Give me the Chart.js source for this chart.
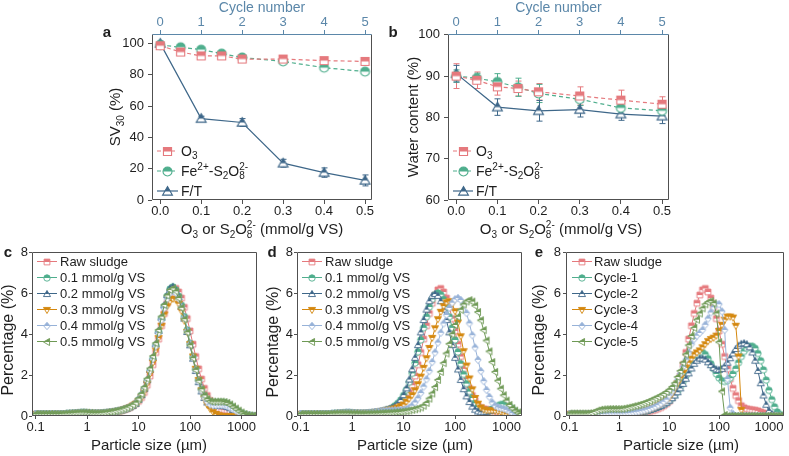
<!DOCTYPE html>
<html>
<head>
<meta charset="utf-8">
<title>Sludge settling, water content and particle size</title>
<script src="https://cdn.jsdelivr.net/npm/chart.js@4.4.1/dist/chart.umd.min.js"></script>
<style>
  html, body { margin: 0; padding: 0; background: #fff; }
  #fig { position: relative; width: 789px; height: 456px; overflow: hidden; }
  #fig canvas { position: absolute; }
</style>
</head>
<body>
<div id="fig">
  <canvas id="panelA" width="385" height="240" style="left:0;top:0"></canvas>
  <canvas id="panelB" width="404" height="240" style="left:385px;top:0"></canvas>
  <canvas id="panelC" width="265" height="216" style="left:0;top:240px"></canvas>
  <canvas id="panelD" width="265" height="216" style="left:265px;top:240px"></canvas>
  <canvas id="panelE" width="264" height="216" style="left:525px;top:240px"></canvas>
</div>
<script>
// ---------- data ----------
const dose = [0, 0.05, 0.1, 0.15, 0.2, 0.3, 0.4, 0.5];
const doseFT = [0, 0.1, 0.2, 0.3, 0.4, 0.5];
const doseTicks = [0, 0.1, 0.2, 0.3, 0.4, 0.5];
const cycleTicks = [0, 1, 2, 3, 4, 5];
const sv30Ticks = [0, 20, 40, 60, 80, 100];
const waterTicks = [60, 70, 80, 90, 100];
const sizeTicks = [0.1, 1, 10, 100, 1000];
const pctTicks = [0, 2, 4, 6, 8];

// SV30 (%)
const sv30O3 = [98.5, 94.5, 92, 92, 90, 90, 89, 88.5];
const sv30O3Err = [1, 1.5, 1.5, 1, 1, 1, 1, 1];
const sv30Fe = [99, 97.5, 96, 93.5, 91, 88.5, 84.5, 82];
const sv30FeErr = [1, 1, 1, 1, 1, 1, 1, 1];
const sv30FT = [100, 52, 49.5, 23.5, 17.5, 12.5];
const sv30FTErr = [1.5, 1.5, 2.5, 2.5, 3, 3.5];

// water content (%)
const waterO3 = [90, 89, 87.4, 87, 86.2, 85.2, 84.2, 83.2];
const waterO3Err = [3, 2, 2, 1.8, 2, 2.2, 2.4, 1.8];
const waterFe = [90, 89.5, 88.6, 87.3, 85.8, 84.4, 82.3, 81.6];
const waterFeErr = [1.5, 1.2, 2, 2.2, 2.2, 1.5, 1.5, 1.2];
const waterFT = [90.6, 82.5, 81.6, 81.9, 80.8, 80.3];
const waterFTErr = [2, 2, 2.5, 1.8, 1.5, 1.8];

const labO3 = ['O', ['3', 'sub']];
const labFe = ['Fe', ['2+', 'sup'], '-S', ['2', 'sub'], 'O', ['8', 'stack', '2-']];
const labFT = ['F/T'];
const doseLabels = ['Raw sludge', '0.1 mmol/g VS', '0.2 mmol/g VS', '0.3 mmol/g VS', '0.4 mmol/g VS', '0.5 mmol/g VS'];
const cycleLabels = ['Raw sludge', 'Cycle-1', 'Cycle-2', 'Cycle-3', 'Cycle-4', 'Cycle-5'];

// particle size classes (um)
const sizes = [
  0.1, 0.114, 0.129, 0.147, 0.167, 0.19, 0.216, 0.245, 0.279, 0.317, 0.36, 0.409, 0.465, 0.528, 0.6, 0.682, 0.775, 0.881,
  1, 1.14, 1.29, 1.47, 1.67, 1.9, 2.16, 2.45, 2.79, 3.17, 3.6, 4.09, 4.65, 5.28, 6, 6.82, 7.75, 8.81,
  10, 11.4, 12.9, 14.7, 16.7, 19, 21.6, 24.5, 27.9, 31.7, 36, 40.9, 46.5, 52.8, 60, 68.2, 77.5, 88.1,
  100, 114, 129, 147, 167, 190, 216, 245, 279, 317, 360, 409, 465, 528, 600, 682, 775, 881,
  1000, 1140, 1290, 1470, 1670, 1900];

const rawSludge = [
  0.08,0.08,0.08,0.08,0.08,0.08,0.08,0.08,0.08,0.08,0.08,0.09,0.1,0.11,0.12,0.13,0.14,0.14,
  0.14,0.13,0.12,0.12,0.12,0.13,0.14,0.15,0.17,0.19,0.21,0.24,0.27,0.31,0.36,0.42,0.5,0.6,
  0.72,0.9,1.15,1.5,1.95,2.5,3.1,3.75,4.4,5.0,5.5,5.9,6.15,6.22,6.05,5.75,5.3,4.75,
  4.15,3.5,2.9,2.3,1.8,1.35,1.0,0.75,0.5,0.4,0.35,0.32,0.3,0.28,0.25,0.2,0.15,0.1,
  0.06,0.03,0.01,0,0,0];

// panel c
const c01 = [
  0.1,0.1,0.1,0.1,0.1,0.1,0.1,0.1,0.1,0.1,0.1,0.11,0.12,0.13,0.14,0.15,0.16,0.16,
  0.15,0.14,0.13,0.13,0.13,0.14,0.15,0.16,0.18,0.2,0.22,0.25,0.28,0.32,0.37,0.43,0.5,0.6,
  0.78,1.0,1.3,1.7,2.2,2.8,3.45,4.1,4.75,5.35,5.85,6.2,6.3,6.15,5.85,5.4,4.85,4.2,
  3.55,2.9,2.3,1.75,1.3,0.98,0.78,0.68,0.65,0.65,0.66,0.66,0.65,0.6,0.52,0.42,0.32,0.22,
  0.14,0.08,0.04,0.02,0.01,0];
const c02 = [
  0.1,0.1,0.1,0.1,0.1,0.1,0.1,0.1,0.1,0.1,0.1,0.11,0.12,0.13,0.14,0.15,0.16,0.16,
  0.15,0.14,0.13,0.13,0.13,0.14,0.15,0.16,0.18,0.2,0.22,0.25,0.28,0.32,0.37,0.43,0.5,0.6,
  0.8,1.02,1.33,1.75,2.25,2.85,3.5,4.15,4.8,5.4,5.9,6.22,6.3,6.12,5.8,5.32,4.75,4.1,
  3.45,2.8,2.2,1.65,1.2,0.88,0.66,0.55,0.5,0.5,0.5,0.5,0.48,0.44,0.38,0.3,0.22,0.14,
  0.08,0.04,0.02,0,0,0];
const c03 = [
  0.08,0.08,0.08,0.08,0.08,0.08,0.08,0.08,0.08,0.08,0.08,0.09,0.1,0.11,0.12,0.13,0.14,0.14,
  0.14,0.13,0.12,0.12,0.12,0.13,0.14,0.15,0.17,0.19,0.21,0.24,0.27,0.31,0.36,0.42,0.5,0.58,
  0.72,0.92,1.2,1.58,2.05,2.6,3.2,3.8,4.4,4.95,5.35,5.6,5.72,5.68,5.48,5.12,4.65,4.1,
  3.5,2.9,2.3,1.75,1.25,0.85,0.55,0.35,0.2,0.1,0.04,0,0,0,0,0,0,0,
  0,0,0,0,0,0];
const c04 = [
  0.1,0.1,0.1,0.1,0.1,0.1,0.1,0.1,0.1,0.1,0.1,0.11,0.12,0.13,0.14,0.15,0.16,0.16,
  0.15,0.14,0.13,0.13,0.13,0.14,0.15,0.16,0.18,0.2,0.22,0.25,0.28,0.32,0.37,0.43,0.5,0.6,
  0.8,1.02,1.32,1.72,2.2,2.78,3.4,4.05,4.68,5.25,5.7,6.0,6.1,6.0,5.72,5.3,4.78,4.15,
  3.5,2.85,2.25,1.7,1.25,0.9,0.68,0.56,0.52,0.52,0.53,0.53,0.52,0.48,0.42,0.34,0.26,0.18,
  0.11,0.06,0.03,0.01,0,0];
const c05 = [
  0.1,0.1,0.1,0.1,0.1,0.1,0.1,0.1,0.1,0.1,0.11,0.12,0.13,0.14,0.15,0.16,0.17,0.17,
  0.16,0.15,0.14,0.14,0.14,0.15,0.16,0.18,0.2,0.22,0.25,0.28,0.32,0.36,0.41,0.47,0.55,0.65,
  0.85,1.08,1.4,1.82,2.32,2.92,3.55,4.2,4.85,5.42,5.88,6.15,6.22,6.08,5.75,5.28,4.72,4.08,
  3.45,2.82,2.25,1.72,1.3,1.0,0.82,0.72,0.7,0.7,0.7,0.7,0.68,0.64,0.56,0.46,0.36,0.26,
  0.17,0.1,0.05,0.02,0.01,0];

// panel d
const d01 = [
  0.1,0.1,0.1,0.1,0.1,0.1,0.1,0.1,0.1,0.1,0.1,0.11,0.12,0.13,0.14,0.15,0.16,0.16,
  0.15,0.14,0.13,0.13,0.13,0.14,0.15,0.16,0.18,0.2,0.22,0.25,0.3,0.32,0.4,0.5,0.62,0.78,
  1.0,1.28,1.65,2.08,2.58,3.13,3.71,4.3,4.84,5.32,5.69,5.92,6.0,5.92,5.69,5.32,4.84,4.3,
  3.71,3.12,2.55,2.03,1.58,1.19,0.88,0.62,0.44,0.32,0.26,0.25,0.28,0.34,0.42,0.5,0.56,0.58,
  0.55,0.47,0.36,0.24,0.13,0.05];
const d02 = [
  0.1,0.1,0.1,0.1,0.1,0.1,0.1,0.1,0.1,0.1,0.1,0.11,0.12,0.13,0.14,0.15,0.16,0.16,
  0.15,0.14,0.13,0.13,0.13,0.14,0.15,0.16,0.18,0.2,0.22,0.25,0.3,0.34,0.4,0.48,0.6,0.78,
  1.02,1.35,1.78,2.28,2.84,3.46,4.08,4.68,5.19,5.6,5.86,5.95,5.86,5.6,5.19,4.68,4.08,3.46,
  2.84,2.27,1.76,1.31,0.96,0.68,0.46,0.31,0.22,0.18,0.18,0.2,0.24,0.28,0.3,0.3,0.27,0.22,
  0.16,0.1,0.05,0.02,0,0];
const d03 = [
  0.08,0.08,0.08,0.08,0.08,0.08,0.08,0.08,0.08,0.08,0.08,0.09,0.1,0.11,0.12,0.13,0.14,0.14,
  0.14,0.13,0.12,0.12,0.12,0.13,0.14,0.15,0.17,0.19,0.21,0.23,0.28,0.3,0.33,0.37,0.42,0.48,
  0.56,0.7,0.85,1.02,1.25,1.55,1.92,2.35,2.82,3.32,3.81,4.28,4.72,5.08,5.36,5.54,5.6,5.47,
  5.11,4.56,3.89,3.16,2.46,1.83,1.3,0.88,0.6,0.42,0.32,0.28,0.27,0.27,0.26,0.24,0.2,0.15,
  0.1,0.06,0.03,0.01,0,0];
const d04 = [
  0.1,0.1,0.1,0.1,0.1,0.1,0.1,0.1,0.1,0.1,0.1,0.11,0.12,0.13,0.14,0.15,0.16,0.16,
  0.15,0.14,0.13,0.13,0.13,0.14,0.15,0.16,0.18,0.2,0.22,0.25,0.26,0.27,0.27,0.28,0.28,0.29,
  0.3,0.34,0.4,0.5,0.66,0.86,1.12,1.43,1.79,2.19,2.63,3.1,3.58,4.06,4.51,4.93,5.27,5.53,
  5.69,5.75,5.66,5.42,5.02,4.52,3.94,3.34,2.74,2.19,1.7,1.27,0.93,0.66,0.5,0.42,0.38,0.35,
  0.3,0.22,0.14,0.07,0.03,0];
const d05 = [
  0.1,0.1,0.1,0.1,0.1,0.1,0.1,0.1,0.1,0.1,0.1,0.11,0.12,0.12,0.13,0.13,0.13,0.13,
  0.12,0.12,0.11,0.11,0.11,0.11,0.12,0.12,0.13,0.13,0.14,0.15,0.15,0.16,0.17,0.18,0.19,0.2,
  0.22,0.24,0.27,0.3,0.33,0.37,0.42,0.5,0.64,0.85,1.1,1.41,1.76,2.15,2.58,3.05,3.52,3.99,
  4.44,4.84,5.18,5.44,5.59,5.65,5.58,5.38,5.07,4.67,4.19,3.68,3.15,2.63,2.15,1.72,1.33,1.01,
  0.75,0.54,0.38,0.26,0.17,0.1];

// panel e
const e01 = [
  0.08,0.08,0.08,0.08,0.08,0.08,0.08,0.08,0.08,0.08,0.08,0.08,0.08,0.08,0.08,0.08,0.08,0.08,
  0.08,0.09,0.1,0.11,0.12,0.14,0.16,0.18,0.2,0.23,0.26,0.3,0.34,0.39,0.44,0.5,0.57,0.65,
  0.75,0.87,1.02,1.2,1.42,1.68,1.95,2.25,2.55,2.8,3.0,3.1,3.1,3.0,2.8,2.55,2.3,2.05,
  1.85,1.72,1.68,1.72,1.85,2.05,2.3,2.6,2.9,3.15,3.3,3.4,3.4,3.3,3.05,2.7,2.25,1.75,
  1.25,0.8,0.45,0.2,0.07,0.02];
const e02 = [
  0.08,0.08,0.08,0.08,0.08,0.08,0.08,0.08,0.08,0.08,0.08,0.08,0.08,0.08,0.08,0.08,0.08,0.08,
  0.08,0.09,0.1,0.11,0.12,0.14,0.16,0.18,0.2,0.23,0.26,0.3,0.34,0.39,0.44,0.5,0.57,0.65,
  0.75,0.87,1.0,1.16,1.35,1.57,1.82,2.08,2.32,2.55,2.7,2.8,2.8,2.75,2.62,2.48,2.35,2.27,
  2.25,2.3,2.42,2.6,2.82,3.05,3.27,3.43,3.52,3.55,3.5,3.35,3.1,2.7,2.2,1.6,1.0,0.55,
  0.25,0.1,0.03,0,0,0];
const e03 = [
  0.08,0.08,0.08,0.08,0.08,0.08,0.08,0.08,0.08,0.08,0.08,0.09,0.1,0.11,0.12,0.12,0.12,0.12,
  0.12,0.12,0.12,0.13,0.14,0.16,0.18,0.2,0.23,0.26,0.3,0.34,0.39,0.45,0.52,0.6,0.69,0.79,
  0.9,1.1,1.35,1.6,1.85,2.1,2.35,2.6,2.8,3.0,3.1,3.2,3.35,3.5,3.65,3.75,3.82,3.92,
  4.15,4.45,4.7,4.85,4.85,4.8,4.4,2.9,0.3,0,0,0,0,0,0,0,0,0,
  0,0,0,0,0,0];
const e04 = [
  0.08,0.08,0.08,0.08,0.08,0.08,0.08,0.08,0.08,0.08,0.08,0.09,0.1,0.11,0.12,0.13,0.13,0.13,
  0.13,0.13,0.13,0.14,0.15,0.17,0.19,0.21,0.24,0.27,0.31,0.35,0.4,0.46,0.53,0.61,0.7,0.8,
  1.0,1.2,1.45,1.75,2.05,2.4,2.75,3.1,3.5,3.75,3.92,4.05,4.2,4.45,4.75,5.05,5.3,5.45,
  5.45,5.1,4.2,1.8,0.4,0.1,0,0,0,0,0,0,0,0,0,0,0,0,
  0,0,0,0,0,0];
const e05 = [
  0.12,0.12,0.12,0.12,0.12,0.12,0.12,0.13,0.15,0.2,0.26,0.3,0.32,0.33,0.34,0.34,0.34,0.34,
  0.34,0.35,0.37,0.4,0.43,0.47,0.5,0.54,0.58,0.63,0.68,0.74,0.8,0.86,0.93,1.0,1.08,1.17,
  1.28,1.42,1.6,1.9,2.2,2.6,3.0,3.45,3.9,4.3,4.7,5.0,5.25,5.45,5.55,5.6,5.5,5.0,
  3.6,1.2,0.05,0,0,0,0,0,0,0,0,0,0,0,0,0,0,0,
  0,0,0,0,0,0];

// ---------- style ----------
const FONT = 'Arial, "Liberation Sans", Helvetica, sans-serif';
const INK = '#1e1e1e', AXIS = '#505050', CYC = '#5b87a9';
const RED = '#e5797d', TEAL = '#4fae8d', NAVY = '#3e6789', ORANGE = '#d4870d', SKY = '#97b2d8', OLIVE = '#6e9955';
const PSD_STYLE = [['square', RED], ['circle', TEAL], ['tri', NAVY], ['triDown', ORANGE], ['diamond', SKY], ['triLeft', OLIVE]];

Chart.defaults.font.family = FONT;
Chart.defaults.color = INK;

// half-filled marker: top half solid, bottom half white
function marker(shape, color, h, lw) {
  const size = Math.ceil(2 * h * 1.2 + lw * 2 + 2);
  const cv = document.createElement('canvas');
  cv.width = cv.height = size;
  const g = cv.getContext('2d');
  const m = size / 2;
  g.translate(m, m);
  const path = () => {
    g.beginPath();
    if (shape === 'square') g.rect(-h * 0.9, -h * 0.9, h * 1.8, h * 1.8);
    else if (shape === 'circle') g.arc(0, 0, h, 0, Math.PI * 2);
    else if (shape === 'tri') { g.moveTo(0, -h * 1.1); g.lineTo(h * 1.1, h * 0.8); g.lineTo(-h * 1.1, h * 0.8); g.closePath(); }
    else if (shape === 'triDown') { g.moveTo(0, h * 1.1); g.lineTo(h * 1.1, -h * 0.8); g.lineTo(-h * 1.1, -h * 0.8); g.closePath(); }
    else if (shape === 'diamond') { g.moveTo(0, -h * 1.15); g.lineTo(h, 0); g.lineTo(0, h * 1.15); g.lineTo(-h, 0); g.closePath(); }
    else if (shape === 'triLeft') { g.moveTo(-h * 1.1, 0); g.lineTo(h * 0.8, -h * 1.1); g.lineTo(h * 0.8, h * 1.1); g.closePath(); }
  };
  path(); g.fillStyle = '#fff'; g.fill();
  g.save(); g.beginPath(); g.rect(-m, -m, size, m); g.clip();
  path(); g.fillStyle = color; g.fill(); g.restore();
  path(); g.lineWidth = lw; g.strokeStyle = color; g.stroke();
  return cv;
}

// text with sub / superscripts, centred vertically on y
function rich(ctx, segs, x, y, size, align, rot, weight) {
  const sm = Math.round(size * 0.68);
  const w8 = weight ? weight + ' ' : '';
  const parts = segs.map(s => {
    const [t, k, t2] = typeof s === 'string' ? [s, ''] : s;
    ctx.font = w8 + (k ? sm : size) + 'px ' + FONT;
    let w = ctx.measureText(t).width;
    if (t2) w = Math.max(w, ctx.measureText(t2).width);
    return {t, k, t2, w};
  });
  const total = parts.reduce((a, p) => a + p.w, 0);
  ctx.save();
  ctx.translate(x, y);
  if (rot) ctx.rotate(rot);
  ctx.fillStyle = INK; ctx.textAlign = 'left'; ctx.textBaseline = 'alphabetic';
  let cx = align === 'left' ? 0 : -total / 2;
  const base = size * 0.36;
  for (const p of parts) {
    ctx.font = w8 + (p.k ? sm : size) + 'px ' + FONT;
    if (!p.k) ctx.fillText(p.t, cx, base);
    else if (p.k === 'sub') ctx.fillText(p.t, cx, base + size * 0.22);
    else if (p.k === 'sup') ctx.fillText(p.t, cx, base - size * 0.42);
    else { ctx.fillText(p.t, cx, base + size * 0.22); ctx.fillText(p.t2, cx, base - size * 0.42); }
    cx += p.w;
  }
  ctx.restore();
}

const extras = {
  id: 'extras',
  beforeDatasetsDraw(chart) {
    const ctx = chart.ctx, ys = chart.scales.y;
    chart.data.datasets.forEach((ds, i) => {
      if (!ds.errs) return;
      const meta = chart.getDatasetMeta(i);
      ctx.save();
      ctx.strokeStyle = ds.borderColor; ctx.lineWidth = 1;
      meta.data.forEach((pt, j) => {
        const v = ds.data[j].y, e = ds.errs[j];
        const y1 = ys.getPixelForValue(v + e), y2 = ys.getPixelForValue(v - e);
        const x = Math.round(pt.x) + 0.5;
        ctx.beginPath();
        ctx.moveTo(x, y1); ctx.lineTo(x, y2);
        ctx.moveTo(x - 3, y1); ctx.lineTo(x + 3, y1);
        ctx.moveTo(x - 3, y2); ctx.lineTo(x + 3, y2);
        ctx.stroke();
      });
      ctx.restore();
    });
  },
  afterDraw(chart, args, o) {
    const ctx = chart.ctx, a = chart.chartArea;
    const l = Math.round(a.left) + 0.5, t = Math.round(a.top) + 0.5;
    const r = Math.round(a.right) - 0.5, b = Math.round(a.bottom) - 0.5;
    ctx.save();
    ctx.lineWidth = 1;
    ctx.strokeStyle = AXIS;
    ctx.beginPath(); ctx.moveTo(l, t); ctx.lineTo(l, b); ctx.lineTo(r, b); ctx.lineTo(r, t); ctx.stroke();
    ctx.strokeStyle = o.topColor || AXIS;
    ctx.beginPath(); ctx.moveTo(l, t); ctx.lineTo(r, t); ctx.stroke();
    ctx.restore();

    (o.titles || []).forEach(tt => rich(ctx, tt.segs, tt.x, tt.y, tt.size, 'center', tt.rot || 0));
    rich(ctx, [o.letter], o.letterAt[0], o.letterAt[1], 15, 'center', 0, 'bold');

    const L = o.legend;
    L.items.forEach((label, k) => {
      const ds = chart.data.datasets[k];
      const y = L.y + k * L.dy;
      ctx.save();
      ctx.strokeStyle = ds.borderColor; ctx.lineWidth = ds.borderWidth;
      ctx.setLineDash(ds.borderDash || []);
      ctx.beginPath(); ctx.moveTo(L.x0, y); ctx.lineTo(L.x1, y); ctx.stroke();
      ctx.restore();
      const img = ds.pointStyle;
      ctx.drawImage(img, Math.round((L.x0 + L.x1) / 2 - img.width / 2), Math.round(y - img.height / 2));
      rich(ctx, typeof label === 'string' ? [label] : label, L.tx, y, L.size, 'left');
    });
  }
};

const fixedTicks = list => s => { s.ticks = list.map(v => ({value: v})); };
const axisGrid = (len, color) => ({drawOnChartArea: false, drawTicks: true, tickLength: len, color});

function doseChart(id, o) {
  const datasets = o.series.map(s => ({
    data: s.x.map((x, i) => ({x, y: s.y[i]})),
    errs: s.err,
    borderColor: s.color, borderWidth: 1.2, borderDash: s.dash,
    pointStyle: marker(s.shape, s.color, 4.5, 1.1), pointRadius: 5,
    tension: 0, xAxisID: 'x', yAxisID: 'y'
  }));
  return new Chart(document.getElementById(id), {
    type: 'line',
    data: {datasets},
    options: {
      responsive: false, animation: false, events: [],
      layout: {padding: {left: 0, right: o.padRight, top: 0, bottom: 0}},
      plugins: {legend: {display: false}, tooltip: {enabled: false}, extras: o.extras},
      scales: {
        x: {type: 'linear', position: 'bottom', min: -0.02, max: 0.517,
            afterBuildTicks: fixedTicks(doseTicks), afterFit: s => { s.height = 40; },
            ticks: {callback: v => v.toFixed(1), font: {size: 13}, padding: 0, maxRotation: 0, autoSkip: false, color: INK},
            grid: axisGrid(4, AXIS), border: {display: false}},
        cyc: {axis: 'x', type: 'linear', position: 'top', min: -0.2, max: 5.17,
            afterBuildTicks: fixedTicks(cycleTicks), afterFit: s => { s.height = 34; },
            ticks: {font: {size: 13}, padding: 0, maxRotation: 0, autoSkip: false, color: CYC},
            grid: axisGrid(4, CYC), border: {display: false},
            title: {display: true, text: 'Cycle number', color: CYC, font: {size: 14, lineHeight: 1.1}, padding: 0}},
        y: {type: 'linear', min: o.yMin, max: o.yMax,
            afterBuildTicks: fixedTicks(o.yTicks), afterFit: s => { s.width = o.yWidth; },
            ticks: {font: {size: 13}, padding: 4, color: INK},
            grid: axisGrid(4, AXIS), border: {display: false}}
      }
    },
    plugins: [extras]
  });
}

function psdChart(id, o) {
  const datasets = o.series.map((ys, k) => ({
    data: sizes.map((x, i) => ({x, y: ys[i]})),
    borderColor: PSD_STYLE[k][1], borderWidth: 1,
    pointStyle: marker(PSD_STYLE[k][0], PSD_STYLE[k][1], 3.2, 0.9), pointRadius: 3.5,
    order: 6 - k, tension: 0
  }));
  return new Chart(document.getElementById(id), {
    type: 'line',
    data: {datasets},
    options: {
      responsive: false, animation: false, events: [],
      layout: {padding: {left: 0, right: o.padRight, top: 12, bottom: 0}},
      plugins: {legend: {display: false}, tooltip: {enabled: false}, extras: o.extras},
      scales: {
        x: {type: 'logarithmic', min: 0.085, max: 2000,
            afterBuildTicks: fixedTicks(sizeTicks), afterFit: s => { s.height = 40; },
            ticks: {callback: v => String(v), font: {size: 13}, padding: 1, maxRotation: 0, autoSkip: false, color: INK},
            grid: axisGrid(3, AXIS), border: {display: false}},
        y: {type: 'linear', min: 0, max: 8,
            afterBuildTicks: fixedTicks(pctTicks), afterFit: s => { s.width = o.yWidth; },
            ticks: {font: {size: 13}, padding: o.yPad, color: INK},
            grid: axisGrid(3, AXIS), border: {display: false}}
      }
    },
    plugins: [extras]
  });
}

const doseTitle = ['O', ['3', 'sub'], ' or S', ['2', 'sub'], 'O', ['8', 'stack', '2-'], ' (mmol/g VS)'];
const ROT = -Math.PI / 2;

doseChart('panelA', {
  yMin: 0, yMax: 106, yTicks: sv30Ticks, yWidth: 152, padRight: 13,
  series: [
    {x: dose, y: sv30O3, err: sv30O3Err, color: RED, shape: 'square', dash: [4, 3]},
    {x: dose, y: sv30Fe, err: sv30FeErr, color: TEAL, shape: 'circle', dash: [4, 3]},
    {x: doseFT, y: sv30FT, err: sv30FTErr, color: NAVY, shape: 'tri', dash: []}
  ],
  extras: {
    letter: 'a', letterAt: [107, 32], topColor: CYC,
    titles: [
      {segs: ['SV', ['30', 'sub'], ' (%)'], x: 115, y: 117, size: 15, rot: ROT},
      {segs: doseTitle, x: 262, y: 229, size: 15}
    ],
    legend: {x0: 157, x1: 178, tx: 181, y: 151, dy: 20, size: 14, items: [labO3, labFe, labFT]}
  }
});

doseChart('panelB', {
  yMin: 60, yMax: 100.2, yTicks: waterTicks, yWidth: 63, padRight: 120,
  series: [
    {x: dose, y: waterO3, err: waterO3Err, color: RED, shape: 'square', dash: [4, 3]},
    {x: dose, y: waterFe, err: waterFeErr, color: TEAL, shape: 'circle', dash: [4, 3]},
    {x: doseFT, y: waterFT, err: waterFTErr, color: NAVY, shape: 'tri', dash: []}
  ],
  extras: {
    letter: 'b', letterAt: [8, 32], topColor: CYC,
    titles: [
      {segs: ['Water content (%)'], x: 28, y: 117, size: 15, rot: ROT},
      {segs: doseTitle, x: 176, y: 229, size: 15}
    ],
    legend: {x0: 68, x1: 88, tx: 91, y: 151, dy: 20, size: 14, items: [labO3, labFe, labFT]}
  }
});

psdChart('panelC', {
  yWidth: 32, yPad: 1, padRight: 8,
  series: [rawSludge, c01, c02, c03, c04, c05],
  extras: {
    letter: 'c', letterAt: [8, 12],
    titles: [
      {segs: ['Percentage (%)'], x: 7, y: 100, size: 16, rot: ROT},
      {segs: ['Particle size (µm)'], x: 149, y: 205, size: 15}
    ],
    legend: {x0: 37, x1: 57, tx: 60, y: 21.5, dy: 16, size: 13, items: doseLabels}
  }
});

psdChart('panelD', {
  yWidth: 32, yPad: 1, padRight: 8,
  series: [rawSludge, d01, d02, d03, d04, d05],
  extras: {
    letter: 'd', letterAt: [7, 12],
    titles: [
      {segs: ['Percentage (%)'], x: 7, y: 102, size: 16, rot: ROT},
      {segs: ['Particle size (µm)'], x: 150, y: 205, size: 15}
    ],
    legend: {x0: 37, x1: 57, tx: 60, y: 21.5, dy: 16, size: 13, items: doseLabels}
  }
});

psdChart('panelE', {
  yWidth: 41, yPad: 2, padRight: 2,
  series: [rawSludge, e01, e02, e03, e04, e05],
  extras: {
    letter: 'e', letterAt: [14, 12],
    titles: [
      {segs: ['Percentage (%)'], x: 13, y: 100, size: 16, rot: ROT},
      {segs: ['Particle size (µm)'], x: 156, y: 205, size: 15}
    ],
    legend: {x0: 47, x1: 67, tx: 69, y: 21.5, dy: 16, size: 13, items: cycleLabels}
  }
});
</script>
</body>
</html>
